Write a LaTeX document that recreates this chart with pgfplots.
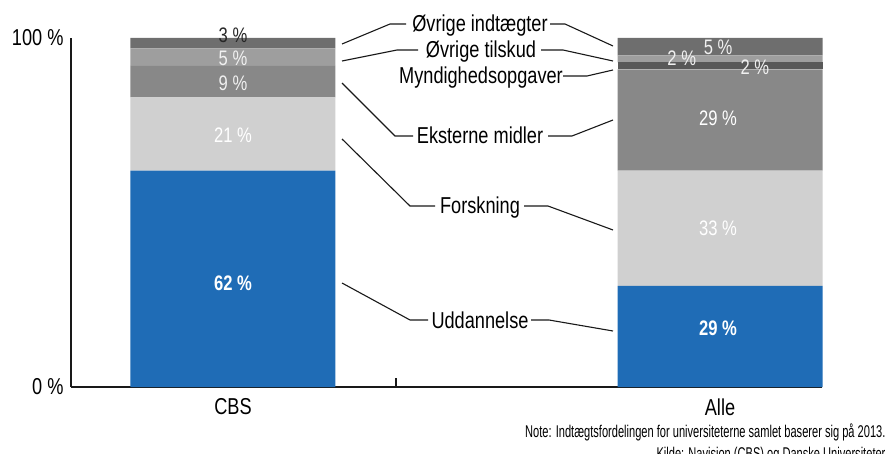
\documentclass[border=0pt]{standalone}
\usepackage{pgfplots}
\pgfplotsset{compat=1.18}
\usepackage{fontspec}
\setmainfont{Liberation Sans}[FakeStretch=0.79]
\newfontfamily\notefont{Liberation Sans}[FakeStretch=0.652]
\definecolor{cblue}{RGB}{31,108,182}
\definecolor{cforsk}{RGB}{208,208,208}
\definecolor{cekst}{RGB}{136,136,136}
\definecolor{cmynd}{RGB}{88,88,88}
\definecolor{ctilsk}{RGB}{158,158,158}
\definecolor{cindt}{RGB}{110,110,110}
\definecolor{lbl}{RGB}{240,240,240}
\tikzset{vl/.style={font=\fontsize{21pt}{24pt}\selectfont}, vb/.style={font=\fontsize{21pt}{24pt}\selectfont\bfseries, text=white}}
\begin{document}
\begin{tikzpicture}[font=\fontsize{23pt}{27pt}\selectfont]
\path[use as bounding box] (0pt,0pt) rectangle (891pt,-454pt);
\begin{axis}[
  at={(71pt,-387pt)}, anchor=south west,
  scale only axis, width=751pt, height=349pt,
  xmin=-0.3326, xmax=1.2094, ymin=0, ymax=100,
  ybar stacked, bar width=205pt,
  clip=false,
  axis x line=bottom, axis y line=left,
  axis line style={-, line width=1.3pt, black!90},
  xtick={0,1}, xticklabels={CBS,Alle},
  ytick={0,100}, yticklabels={0 \%,100 \%},
  major tick length=0pt,
  ticklabel style={font=\fontsize{23pt}{27pt}\selectfont},
  yticklabel style={xshift=-4pt},
  xticklabel style={yshift=-8pt},
]
\addplot[fill=cblue, draw=none] coordinates {(0,62) (1,29)};
\addplot[fill=cforsk, draw=none] coordinates {(0,21) (1,33)};
\addplot[fill=cekst, draw=none] coordinates {(0,9) (1,29)};
\addplot[fill=cmynd, draw=none] coordinates {(0,0) (1,2)};
\addplot[fill=ctilsk, draw=none] coordinates {(0,5) (1,2)};
\addplot[fill=cindt, draw=none] coordinates {(0,3) (1,5)};
\draw[line width=1.3pt, black!90] (axis cs:0.335,0) -- (axis cs:0.335,2.6);
\coordinate (a1) at (axis cs:0,100.9);
\coordinate (a2) at (axis cs:0,94.3);
\coordinate (a3) at (axis cs:0,87.1);
\coordinate (a4) at (axis cs:0,72.2);
\coordinate (a5) at (axis cs:0,29.8);
\coordinate (b1) at (axis cs:0.996,97.4);
\coordinate (b2) at (axis cs:0.9215,94.3);
\coordinate (b3) at (axis cs:1.0715,91.7);
\coordinate (b4) at (axis cs:0.996,77.1);
\coordinate (b5) at (axis cs:0.996,45.6);
\coordinate (b6) at (axis cs:0.996,16.9);
\end{axis}
\node[vl,text=black!85] at (a1) {3 \%};
\node[vl,text=lbl] at (a2) {5 \%};
\node[vl,text=lbl] at (a3) {9 \%};
\node[vl,text=white] at (a4) {21 \%};
\node[vb] at (a5) {62 \%};
\node[vl,text=lbl] at (b1) {5 \%};
\node[vl,text=lbl] at (b2) {2 \%};
\node[vl,text=lbl] at (b3) {2 \%};
\node[vl,text=white] at (b4) {29 \%};
\node[vl,text=white] at (b5) {33 \%};
\node[vb] at (b6) {29 \%};
\begin{scope}[x=1pt,y=-1pt]
\node[anchor=base] at (480,32) {Øvrige indtægter};
\node[anchor=base] at (481,58) {Øvrige tilskud};
\node[anchor=base] at (481,84) {Myndighedsopgaver};
\node[anchor=base] at (480,144) {Eksterne midler};
\node[anchor=base] at (480,214) {Forskning};
\node[anchor=base] at (480,328) {Uddannelse};
\draw[line width=1.1pt, black!90] (342,44) -- (390,24) -- (406,24);
\draw[line width=1.1pt, black!90] (550,24) -- (565,24) -- (613,46);
\draw[line width=1.1pt, black!90] (342,61) -- (397,50) -- (418,50);
\draw[line width=1.1pt, black!90] (541,50) -- (563,50) -- (613,61);
\draw[line width=1.1pt, black!90] (563,76) -- (587,76) -- (613,70);
\draw[line width=1.1pt, black!90] (342,83) -- (395,136) -- (413,136);
\draw[line width=1.1pt, black!90] (548,136) -- (572,136) -- (613,120);
\draw[line width=1.1pt, black!90] (342,139) -- (410,206) -- (435,206);
\draw[line width=1.1pt, black!90] (524,206) -- (548,206) -- (613,230);
\draw[line width=1.1pt, black!90] (342,283) -- (410,320) -- (428,320);
\draw[line width=1.1pt, black!90] (531,320) -- (549,320) -- (613,331);
\node[anchor=base east, font=\fontsize{17pt}{19pt}\notefont] at (889,437) {Note: Indtægtsfordelingen for universiteterne samlet baserer sig på 2013.};
\node[anchor=base east, font=\fontsize{17pt}{19pt}\notefont] at (889,459) {Kilde: Navision (CBS) og Danske Universiteter};
\end{scope}
\end{tikzpicture}
\end{document}
